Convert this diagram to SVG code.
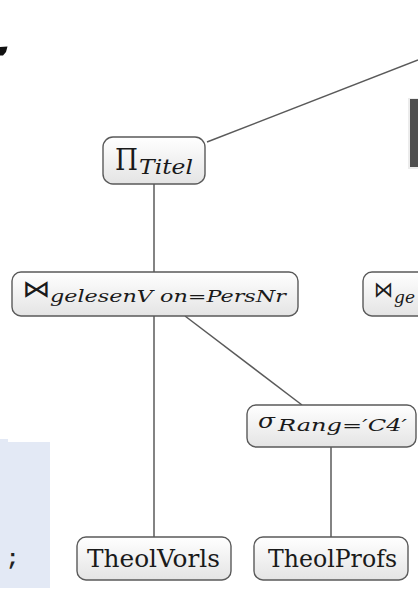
<svg xmlns="http://www.w3.org/2000/svg" width="418" height="598" viewBox="0 0 418 598">
<style>
.node rect{fill:url(#ng);stroke:#5a5a5a;stroke-width:1.4}
.edge{stroke:#5a5a5a;stroke-width:1.5;fill:none}
.m{font-family:"DejaVu Serif","Liberation Serif",serif;fill:#1a1a1a}
.i{font-style:italic}
.sym{font-family:"DejaVu Sans","Noto Sans",sans-serif;fill:#1a1a1a}
</style>
<defs>
<linearGradient id="ng" x1="0" y1="0" x2="0" y2="1">
<stop offset="0" stop-color="#ffffff"/>
<stop offset="1" stop-color="#e4e4e4"/>
</linearGradient>
</defs>
<rect width="418" height="598" fill="#ffffff"/>
<rect x="0" y="442" width="50" height="146" fill="#e3e9f5"/>
<rect x="0" y="439" width="8" height="4" fill="#e3e9f5"/>
<text x="6" y="565" font-family="'Liberation Mono',monospace" font-weight="bold" font-size="22" fill="#222">;</text>
<polygon points="0,47 7.5,46.5 6,52 3,55.5 0,55.5" fill="#111"/>
<rect x="408" y="98" width="10" height="71" fill="#ececec"/>
<rect x="410" y="99" width="8" height="68" fill="#4f4f4f"/>
<g id="edges">
<line class="edge" x1="207" y1="142" x2="418" y2="60"/>
<line class="edge" x1="154" y1="184" x2="154" y2="272"/>
<line class="edge" x1="154" y1="316" x2="154" y2="537"/>
<line class="edge" x1="185" y1="316" x2="302" y2="405"/>
<line class="edge" x1="331" y1="447" x2="331" y2="537"/>
</g>
<g id="proj" class="node">
<rect x="103" y="137" width="102" height="47" rx="10"/>
<text class="m" x="115" y="170" font-size="30" textLength="23" lengthAdjust="spacingAndGlyphs">Π</text>
<text class="m i" x="139" y="174" font-size="20" textLength="54" lengthAdjust="spacingAndGlyphs">Titel</text>
</g>
<g id="join1" class="node">
<rect x="12" y="272" width="286" height="44" rx="9"/>
<text class="sym" x="22" y="297" font-size="24" textLength="28" lengthAdjust="spacingAndGlyphs">⋈</text>
<text class="m i" x="50" y="302" font-size="17" textLength="236" lengthAdjust="spacingAndGlyphs">gelesenV on=PersNr</text>
</g>
<g id="join2" class="node">
<rect x="363" y="272" width="80" height="44" rx="9"/>
<text class="sym" x="374" y="297" font-size="22" textLength="19" lengthAdjust="spacingAndGlyphs">⋈</text>
<text class="m i" x="394" y="303" font-size="17">ge</text>
</g>
<g id="sel" class="node">
<rect x="247" y="405" width="169" height="42" rx="9"/>
<text class="m i" x="258" y="428" font-size="20" textLength="17" lengthAdjust="spacingAndGlyphs">σ</text>
<text class="m i" x="278" y="431" font-size="17" textLength="129" lengthAdjust="spacingAndGlyphs">Rang=′C4′</text>
</g>
<g id="vorls" class="node">
<rect x="77" y="537" width="154" height="43" rx="9"/>
<text class="m" x="87" y="567" font-size="24" textLength="133" lengthAdjust="spacingAndGlyphs">TheolVorls</text>
</g>
<g id="profs" class="node">
<rect x="254" y="537" width="154" height="43" rx="9"/>
<text class="m" x="268" y="567" font-size="24" textLength="129" lengthAdjust="spacingAndGlyphs">TheolProfs</text>
</g>
</svg>
